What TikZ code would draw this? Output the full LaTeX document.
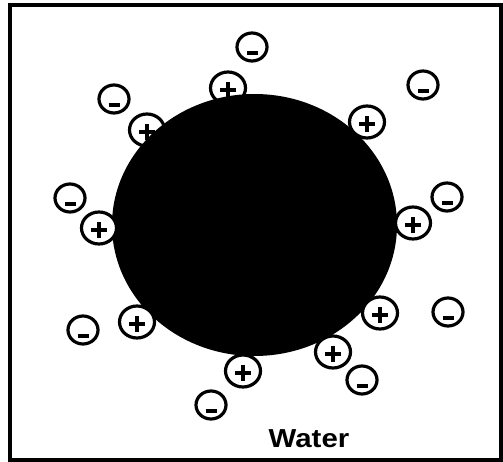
\documentclass[tikz,border=0pt]{standalone}
\usepackage{fontspec}
\setmainfont{Liberation Sans}
\usetikzlibrary{shapes.geometric, positioning}

\begin{document}
\begin{tikzpicture}[
    x=1pt, y=-1pt,
    ion/.style={ellipse, draw=black, line width=3.2pt, fill=white, inner sep=0pt},
    cation/.style={ion, minimum width=35pt, minimum height=32pt,
        path picture={\draw[line width=3.4pt, shift={(path picture bounding box.center)}] (-8pt,-2pt) -- (8pt,-2pt) (0pt,-10pt) -- (0pt,6pt);}},
    anion/.style={ion, minimum width=30pt, minimum height=28pt,
        path picture={\draw[line width=3.8pt, shift={(path picture bounding box.center)}] (-5.5pt,-6pt) -- (5.5pt,-6pt);}},
    particle/.style={ellipse, fill=black, draw=none, inner sep=0pt, minimum width=285pt, minimum height=262pt},
    label/.style={font=\fontsize{26}{26}\selectfont\bfseries, inner sep=0pt}
]
    \useasboundingbox (0,0) rectangle (503,462);
    \draw[line width=3.5pt] (10,5) rectangle (501,460);

    \node[cation] (ctop) at (228,88) {};
    \node[cation] (cnw) at (147,130) {};

    \node[particle] (grain) at (254.5,225) {};

    \node[cation] (cne) at (367,122) {};
    \node[cation] (cwest) at (99,228) {};
    \node[cation] (ceast) at (413,223) {};
    \node[cation] (csw) at (137,322) {};
    \node[cation] (cse) at (380,313) {};
    \node[cation] (csse) at (333,352) {};
    \node[cation] (csouth) at (243,371) {};

    \node[anion] (atop) at (252,47) {};
    \node[anion] (anw) at (114,99) {};
    \node[anion] (ane) at (423,85) {};
    \node[anion] (awest) at (70,198) {};
    \node[anion] (aeast) at (447,197) {};
    \node[anion] (asw) at (83,330) {};
    \node[anion] (ase) at (448,312) {};
    \node[anion] (asse) at (362,380) {};
    \node[anion] (asouth) at (211,405) {};

    \node[label] (water) at (309,439) {\scalebox{1.13}[1]{Water}};
\end{tikzpicture}
\end{document}
